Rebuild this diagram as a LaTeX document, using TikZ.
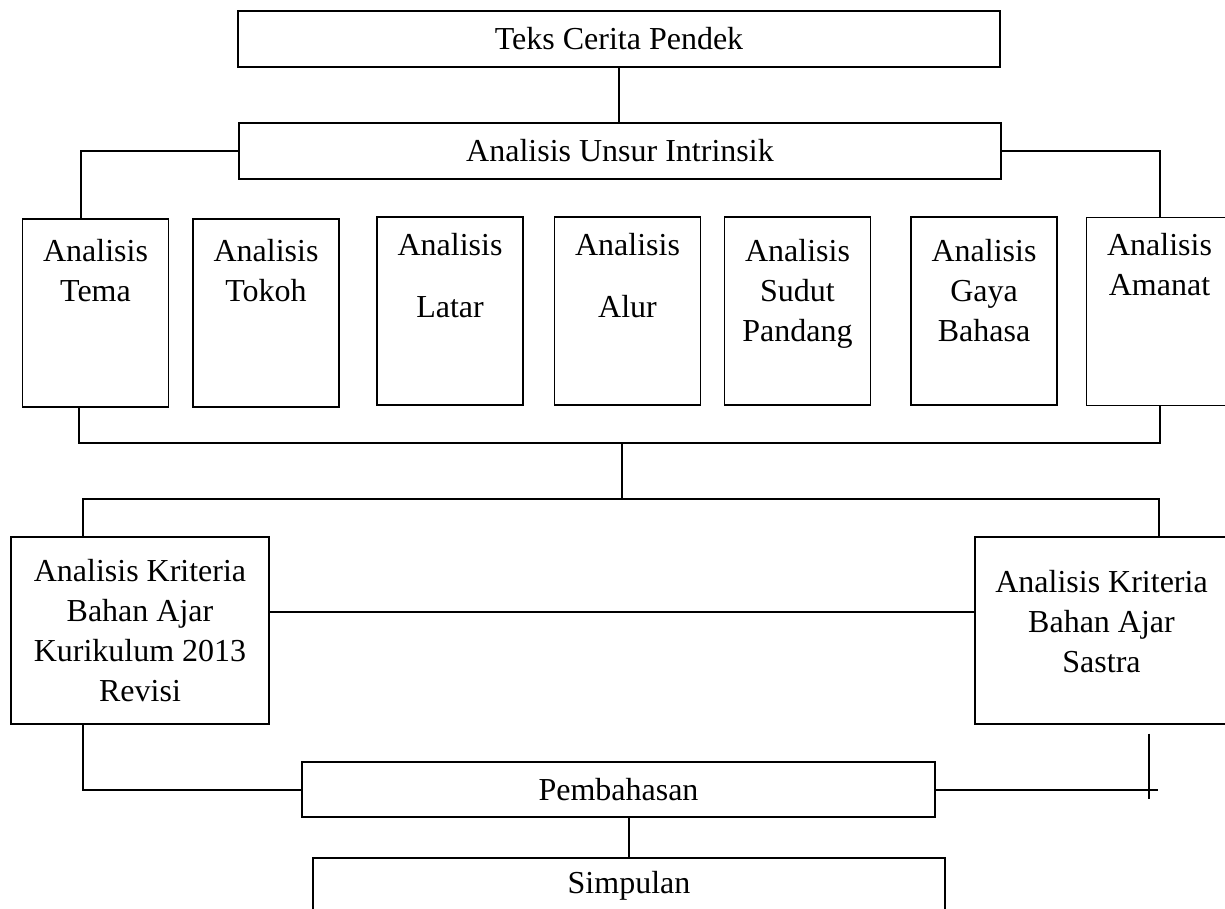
\documentclass[tikz,border=0pt]{standalone}
\usepackage{fontspec}
\setmainfont{Liberation Serif}
\begin{document}
\begin{tikzpicture}[x=0.5pt, y=-0.5pt,
  font=\fontsize{16}{20}\selectfont,
  box/.style={draw, line width=0.6pt, inner sep=0pt, align=center},
  col/.style={box, minimum width=73pt, minimum height=94pt},
  wide/.style={box, minimum width=381pt, minimum height=28pt},
  txt/.style={align=center, inner sep=0pt, anchor=north},
  conn/.style={line width=1pt}]

\useasboundingbox (0,0) rectangle (1225,909);

\node(0) [wide] at (619, 39) {Teks Cerita Pendek};
\node(1) [wide] at (620, 151) {Analisis Unsur Intrinsik};

\node(2) [col] at (95.5, 313) {};
\node [txt, yshift=-10pt] at (2.north) {Analisis\\Tema};

\node(3) [col] at (266, 313) {};
\node [txt, yshift=-10pt] at (3.north) {Analisis\\Tokoh};

\node(4) [col] at (450, 311) {};
\node [txt, yshift=-8pt] at (4.north) {Analisis\\[11pt]Latar};

\node(5) [col] at (627.5, 311) {};
\node [txt, yshift=-8pt] at (5.north) {Analisis\\[11pt]Alur};

\node(6) [col] at (797.5, 311) {};
\node [txt, yshift=-11pt] at (6.north) {Analisis\\Sudut\\Pandang};

\node(7) [col] at (984, 311) {};
\node [txt, yshift=-11pt] at (7.north) {Analisis\\Gaya\\Bahasa};

\node(8) [col] at (1159.5, 311.5) {};
\node [txt, yshift=-8pt] at (8.north) {Analisis\\Amanat};

\node(9) [box, minimum width=129pt, minimum height=93.5pt] at (140, 630.5) {
	Analisis Kriteria\\
	Bahan Ajar\\
	Kurikulum 2013\\
	Revisi
};

\node(10) [box, minimum width=126.5pt, minimum height=93.5pt] at (1101.5, 630.5) {};
\node [align=center, inner sep=0pt, yshift=4.25pt] at (10.center) {
	Analisis Kriteria\\
	Bahan Ajar\\
	Sastra
};

\node(11) [box, minimum width=316.5pt, minimum height=27.5pt] at (618.5, 789.5) {Pembahasan};
\node(12) [box, minimum width=316pt, minimum height=27.5pt] at (629, 885.5) {Simpulan};

\coordinate (j1) at (622, 443);
\coordinate (j2) at (622, 499);

\draw [conn] (0.south) -- (0.south |- 1.north);
\draw [conn] (1.west) -| ([xshift=-7.25pt]2.north);
\draw [conn] (1.east) -| (8.north);
\draw [conn] ([xshift=-8.25pt]2.south) |- (j1) -| (8.south);
\draw [conn] (j1) -- (j2);
\draw [conn] ([xshift=-28.5pt]9.north) |- (j2) -| ([xshift=28.75pt]10.north);
\draw [conn] ([yshift=9.25pt]9.east) -- ([yshift=9.25pt]10.west);
\draw [conn] ([xshift=-28.5pt]9.south) |- (11.west);
\draw [conn] (11.east) -- ++(222, 0);
\draw [conn] ([xshift=23.75pt, yshift=-4.5pt]10.south) -- ++(0, 65);
\draw [conn] (12.north) -- (12.north |- 11.south);

\end{tikzpicture}
\end{document}
